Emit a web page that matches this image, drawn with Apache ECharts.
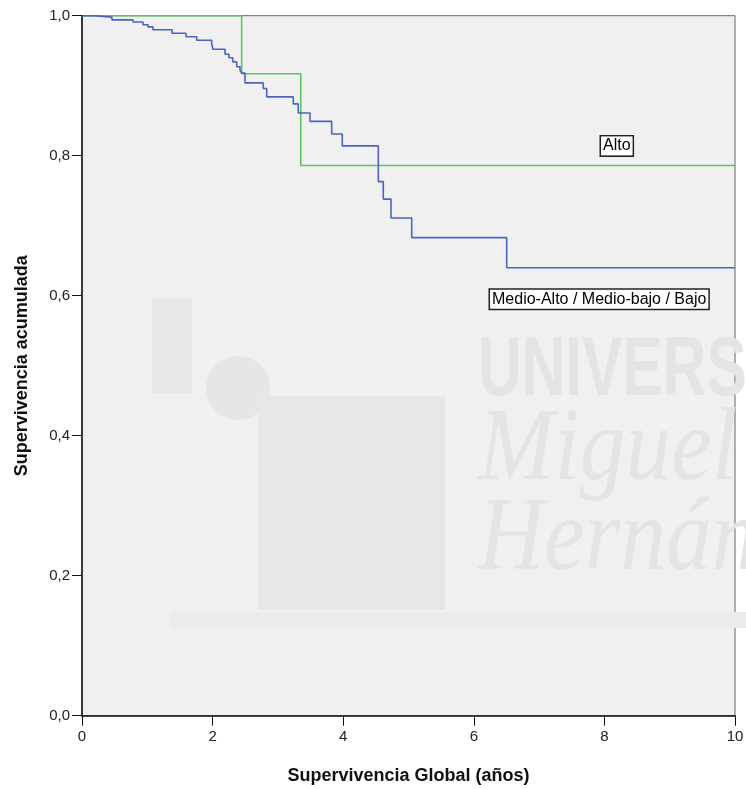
<!DOCTYPE html>
<html>
<head>
<meta charset="utf-8">
<script src="https://cdn.jsdelivr.net/npm/echarts@6/dist/echarts.min.js"></script>
<style>
html,body{margin:0;padding:0;background:#fff;}
#chart{width:746px;height:789px;}
</style>
</head>
<body>
<div id="chart"></div>
<script>
// Kaplan-Meier steps (time in years, cumulative survival)
const blueTimes = [0, 0.173, 0.459, 0.781, 0.934, 1.011, 1.087, 1.378, 1.593, 1.757, 1.986, 2.006, 2.19, 2.251, 2.308, 2.369, 2.42, 2.446, 2.496, 2.776, 2.829, 3.236, 3.312, 3.492, 3.824, 3.986, 4.538, 4.614, 4.732, 5.049, 6.504, 10];
const blueSurv  = [1.0, 0.998, 0.994, 0.991, 0.987, 0.984, 0.980, 0.975, 0.970, 0.965, 0.960, 0.952, 0.945, 0.940, 0.934, 0.927, 0.922, 0.918, 0.904, 0.896, 0.884, 0.874, 0.861, 0.849, 0.831, 0.814, 0.763, 0.738, 0.711, 0.683, 0.640, 0.640];
const greenTimes = [0, 2.445, 3.35, 10];
const greenSurv  = [1.0, 0.917, 0.786, 0.786];
const yTicks = [0, 0.2, 0.4, 0.6, 0.8, 1.0];
const xTicks = [0, 2, 4, 6, 8, 10];
const seriesNames = ['Alto', 'Medio-Alto / Medio-bajo / Bajo'];

const chart = echarts.init(document.getElementById('chart'));
const boxLabel = {
  show: true, position: 'inside', color: '#000', fontSize: 16,
  fontFamily: 'Liberation Sans, Arial, sans-serif',
  backgroundColor: '#fff', borderColor: '#222', borderWidth: 1.5,
  padding: [2, 2, 1, 2]
};
const wmColor = '#e4e4e4';
chart.setOption({
  animation: false,
  backgroundColor: '#fff',
  grid: { left: 82, right: 11, top: 15.7, bottom: 73.3, outerBoundsMode: 'none', containLabel: false,
    show: true, backgroundColor: '#f0f0f0', borderColor: '#666', borderWidth: 1 },
  graphic: [
    { type: 'rect', z: 1, silent: true, shape: { x: 170, y: 612, width: 576, height: 16 }, style: { fill: '#ebebeb' } },
    { type: 'rect', z: 1, silent: true, shape: { x: 152, y: 298, width: 40, height: 95 }, style: { fill: '#e8e8e8' } },
    { type: 'circle', z: 1, silent: true, shape: { cx: 238, cy: 388, r: 32 }, style: { fill: '#e6e6e6' } },
    { type: 'rect', z: 1, silent: true, shape: { x: 258, y: 396, width: 187, height: 214 }, style: { fill: '#e7e7e7' } },
    { type: 'text', z: 1, silent: true, x: 478, y: 330, scaleX: 0.72, style: { text: 'UNIVERSITAS', fill: wmColor, font: 'bold 84px Liberation Sans' } },
    { type: 'text', z: 1, silent: true, x: 478, y: 400, scaleX: 0.88, style: { text: 'Miguel', fill: wmColor, font: 'italic 104px Liberation Serif' } },
    { type: 'text', z: 1, silent: true, x: 478, y: 490, scaleX: 0.88, style: { text: 'Hernández', fill: wmColor, font: 'italic 104px Liberation Serif' } }
  ],
  xAxis: {
    type: 'value', min: 0, max: 10, interval: 2,
    name: 'Supervivencia Global (años)', nameLocation: 'middle', nameGap: 51,
    nameTextStyle: { fontSize: 18, fontWeight: 'bold', color: '#111', fontFamily: 'Liberation Sans, Arial, sans-serif' },
    axisLine: { show: true, lineStyle: { color: '#111', width: 1.5 } },
    axisTick: { show: true, length: 10, lineStyle: { color: '#111' } },
    axisLabel: { fontSize: 15, color: '#222', margin: 14, fontFamily: 'Liberation Sans, Arial, sans-serif',
      formatter: v => xTicks.includes(v) ? String(v) : '' },
    splitLine: { show: false }
  },
  yAxis: {
    type: 'value', min: 0, max: 1, interval: 0.2,
    name: 'Supervivencia acumulada', nameLocation: 'middle', nameGap: 51,
    nameTextStyle: { fontSize: 18, fontWeight: 'bold', color: '#111', fontFamily: 'Liberation Sans, Arial, sans-serif' },
    axisLine: { show: true, lineStyle: { color: '#111', width: 1.5 } },
    axisTick: { show: true, length: 10, lineStyle: { color: '#111' } },
    axisLabel: { fontSize: 15, color: '#222', margin: 12, fontFamily: 'Liberation Sans, Arial, sans-serif',
      formatter: v => yTicks.some(t => Math.abs(t - v) < 1e-9) ? v.toFixed(1).replace('.', ',') : '' },
    splitLine: { show: false }
  },
  series: [
    {
      name: seriesNames[0], type: 'line', step: 'end', symbol: 'none', z: 3,
      lineStyle: { color: '#5cc45c', width: 1.6 },
      data: greenTimes.map((t, i) => [t, greenSurv[i]]),
      markPoint: { symbol: 'rect', symbolSize: 0, silent: true,
        data: [{ coord: [8.19, 0.814], label: Object.assign({}, boxLabel, { formatter: seriesNames[0] }) }] }
    },
    {
      name: seriesNames[1], type: 'line', step: 'end', symbol: 'none', z: 4,
      lineStyle: { color: '#4a64c2', width: 1.6 },
      data: blueTimes.map((t, i) => [t, blueSurv[i]]),
      markPoint: { symbol: 'rect', symbolSize: 0, silent: true,
        data: [{ coord: [7.92, 0.595], label: Object.assign({}, boxLabel, { formatter: seriesNames[1] }) }] }
    }
  ]
});
</script>
</body>
</html>
